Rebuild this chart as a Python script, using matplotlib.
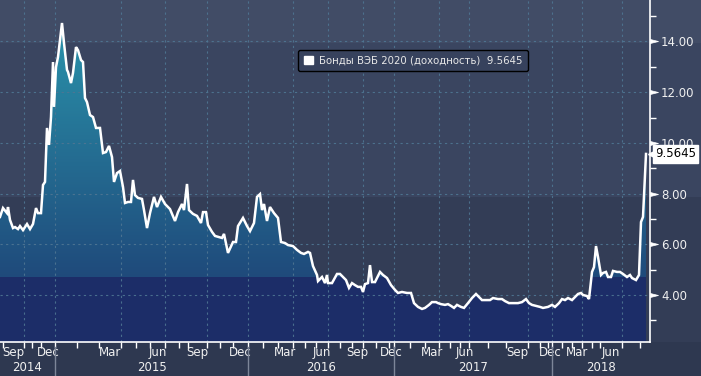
import numpy as np
import matplotlib.pyplot as plt
import matplotlib.transforms as mtransforms
from matplotlib.colors import to_rgb
from matplotlib.patches import Rectangle, Patch
from matplotlib.path import Path

# observation number along the x axis (Bloomberg "no gaps" style axis) and yield, %
obs = [0, 3, 7, 8, 10, 13, 15, 18, 20, 23, 27, 30, 33, 36, 38, 41, 43, 45, 47, 49,
       51, 53, 54, 56, 58, 62, 64, 67, 68, 71, 73, 76, 78, 81, 83, 85, 87, 90, 93, 96,
       100, 103, 106, 109, 112, 114, 117, 120, 123, 125, 128, 131, 133, 135, 138, 142, 144, 147, 150, 154,
       157, 161, 165, 170, 175, 178, 182, 184, 187, 189, 193, 197, 201, 203, 206, 208, 212, 215, 222, 224,
       228, 233, 236, 238, 243, 247, 250, 254, 257, 260, 262, 264, 267, 270, 274, 278, 281, 285, 288, 293,
       297, 301, 304, 308, 310, 313, 317, 318, 322, 325, 327, 328, 332, 337, 340, 342, 346, 349, 352, 355,
       358, 361, 363, 365, 368, 370, 372, 375, 380, 383, 387, 391, 395, 398, 402, 407, 411, 414, 418, 422,
       425, 429, 432, 436, 438, 441, 445, 448, 451, 454, 457, 461, 464, 468, 472, 476, 478, 482, 487, 490,
       493, 498, 502, 505, 509, 513, 518, 522, 526, 529, 532, 536, 540, 543, 548, 552, 555, 559, 562, 565,
       568, 572, 575, 578, 581, 583, 587, 589, 592, 594, 596, 598, 601, 603, 606, 608, 611, 613, 617, 620,
       623, 627, 630, 632, 636, 639, 641, 643, 646]
yld = [7.08, 7.43, 7.23, 7.47, 6.96, 6.64, 6.68, 6.60, 6.72, 6.56, 6.80, 6.60, 6.80, 7.43, 7.23, 7.23, 8.34, 8.46, 10.59, 9.92,
       11.02, 13.19, 11.42, 12.99, 13.39, 14.73, 13.94, 12.88, 12.80, 12.36, 12.76, 13.78, 13.66, 13.27, 13.19, 11.77, 11.61, 11.10, 11.02, 10.59,
       10.59, 9.60, 9.64, 9.88, 9.44, 8.46, 8.81, 8.89, 8.26, 7.63, 7.67, 7.67, 8.54, 7.94, 7.83, 7.79, 7.35, 6.64, 7.23, 7.87,
       7.47, 7.87, 7.59, 7.39, 6.92, 7.27, 7.59, 7.35, 8.38, 7.35, 7.20, 7.12, 6.84, 7.27, 7.27, 6.76, 6.49, 6.33, 6.25, 6.41,
       5.66, 6.09, 6.09, 6.72, 7.04, 6.72, 6.52, 6.84, 7.87, 7.98, 7.35, 7.59, 6.92, 7.47, 7.23, 7.04, 6.09, 6.05, 5.97, 5.93,
       5.78, 5.66, 5.62, 5.70, 5.66, 5.14, 4.79, 4.55, 4.71, 4.47, 4.79, 4.47, 4.47, 4.83, 4.83, 4.75, 4.59, 4.28, 4.47, 4.39,
       4.32, 4.32, 4.12, 4.43, 4.47, 5.18, 4.51, 4.51, 4.91, 4.79, 4.67, 4.39, 4.20, 4.08, 4.12, 4.08, 4.08, 3.68, 3.53, 3.45,
       3.49, 3.61, 3.72, 3.72, 3.68, 3.64, 3.61, 3.64, 3.57, 3.49, 3.61, 3.53, 3.49, 3.68, 3.88, 4.04, 3.96, 3.80, 3.80, 3.80,
       3.88, 3.84, 3.84, 3.76, 3.68, 3.68, 3.68, 3.72, 3.84, 3.68, 3.61, 3.57, 3.53, 3.49, 3.53, 3.61, 3.53, 3.68, 3.84, 3.80,
       3.88, 3.80, 3.92, 4.04, 4.08, 4.00, 3.96, 3.84, 4.91, 5.10, 5.93, 5.50, 4.79, 4.87, 4.91, 4.71, 4.71, 4.95, 4.91, 4.91,
       4.83, 4.71, 4.79, 4.67, 4.59, 4.79, 6.88, 7.08, 9.5645]
series_name = 'Бонды ВЭБ 2020 (доходность)'
last_value = yld[-1]

# month starts on the observation axis, Sep 2014 .. Aug 2018
months = ['Sep', 'Oct', 'Nov', 'Dec',
          'Jan', 'Feb', 'Mar', 'Apr', 'May', 'Jun', 'Jul', 'Aug', 'Sep', 'Oct', 'Nov', 'Dec',
          'Jan', 'Feb', 'Mar', 'Apr', 'May', 'Jun', 'Jul', 'Aug', 'Sep', 'Oct', 'Nov', 'Dec',
          'Jan', 'Feb', 'Mar', 'Apr', 'May', 'Jun', 'Jul', 'Aug', 'Sep', 'Oct', 'Nov', 'Dec',
          'Jan', 'Feb', 'Mar', 'Apr', 'May', 'Jun', 'Jul', 'Aug']
month_pos = [3, 24, 32, 41,
             55, 77, 99, 121, 136, 150, 165, 179, 188, 207, 220, 233,
             248, 263, 278, 293, 305, 316, 328, 340, 352, 363, 376, 389,
             394, 410, 425, 439, 450, 460, 469, 488, 506, 528, 540, 548,
             552, 562, 572, 582, 592, 600, 622, 640]
years = ['2014', '2015', '2016', '2017', '2018']

X_MAX = 650
Y_LO, Y_HI = 2.146, 15.637

W, H = 701, 376
fig = plt.figure(figsize=(W / 100, H / 100), dpi=100)
plt.rcParams['font.family'] = 'DejaVu Sans'

# banded background
bands = [(0, 34, '#2e3850'), (34, 179, '#333d56'), (179, 333, '#3a4560'), (333, 376, '#414c66')]
for y0, y1, c in bands:
    fig.patches.append(Rectangle((0, y0 / H), 1, (y1 - y0) / H, transform=fig.transFigure,
                                 facecolor=c, edgecolor='none', zorder=-10))

ax = fig.add_axes([0, 34 / H, X_MAX / W, 342 / H])
ax.patch.set_alpha(0)
ax.set_xlim(0, X_MAX)
ax.set_ylim(Y_LO, Y_HI)

# gradient area under the line
poly = ax.fill_between(obs, yld, Y_LO, color='none', lw=0)
vv = np.linspace(Y_LO, Y_HI, 600)
navy = np.array(to_rgb('#1c2d68'))
c0 = np.array(to_rgb('#1f4a7b'))
c1 = np.array(to_rgb('#2a93ab'))
t = np.clip((vv - 4.7) / (14.7 - 4.7), 0, 1)[:, None]
rgb = np.where((vv < 4.7)[:, None], navy, c0 + t * (c1 - c0))[:, None, :]
im = ax.imshow(rgb, extent=[0, X_MAX, Y_LO, Y_HI], origin='lower', aspect='auto',
               interpolation='nearest', zorder=1)
im.set_clip_path(poly.get_paths()[0], transform=ax.transData)

# dotted grid
grid_kw = dict(color='#4f7693', lw=0.8, ls=(0, (2, 3)), zorder=2, alpha=0.9)
for v in range(4, 16, 2):
    ax.axhline(v, **grid_kw)
for m, p in zip(months, month_pos):
    if m in ('Jan', 'Apr', 'Jul', 'Oct'):
        ax.axvline(p, **grid_kw)

ax.plot(obs, yld, color='white', lw=1.8, zorder=3, solid_joinstyle='miter')

# spines
for s in ('top', 'left'):
    ax.spines[s].set_visible(False)
for s in ('bottom', 'right'):
    ax.spines[s].set_color('white')
    ax.spines[s].set_linewidth(1.2)

# right y axis
ax.yaxis.tick_right()
ax.set_yticks(range(4, 16, 2))
ax.set_yticklabels([f'{v:.2f}' for v in range(4, 16, 2)])
ax.set_yticks(range(3, 16, 2), minor=True)
ax.tick_params(axis='y', which='major', length=0, pad=8, labelsize=8.5, labelcolor='#f0f0f0')
ax.tick_params(axis='y', which='minor', length=4, width=1, color='white')
tri = Path([(0, 0.5), (2, 0), (0, -0.5), (0, 0.5)], [Path.MOVETO, Path.LINETO, Path.LINETO, Path.CLOSEPOLY])
ytr = mtransforms.blended_transform_factory(ax.transAxes, ax.transData)
ax.plot([1] * 6, list(range(4, 16, 2)), transform=ytr, ls='none', marker=tri, ms=11.5,
        color='white', mec='white', mew=0.5, clip_on=False, zorder=5)

# last value tag
ax.text(1.008, last_value, f'{last_value:.4f}', transform=ytr, ha='left', va='center',
        fontsize=8.5, color='black', zorder=6,
        bbox=dict(boxstyle='square,pad=0.18', facecolor='white', edgecolor='white'))
ax.plot([1.003], [last_value], transform=ytr, ls='none', marker='<', ms=6, color='white',
        clip_on=False, zorder=6)

# x axis: month ticks, labels centred in the month
ax.set_xticks(month_pos)
ax.set_xticklabels([])
ax.tick_params(axis='x', which='major', length=4, width=1, color='white', direction='out')
lab_pos, lab_txt = [], []
for i, m in enumerate(months):
    if m in ('Mar', 'Jun', 'Sep', 'Dec'):
        nxt = month_pos[i + 1] if i + 1 < len(month_pos) else X_MAX
        lab_pos.append((month_pos[i] + nxt) / 2)
        lab_txt.append(m)
ax.set_xticks(lab_pos, minor=True)
ax.set_xticklabels(lab_txt, minor=True)
ax.tick_params(axis='x', which='minor', length=0, pad=3, labelsize=8.5, labelcolor='#f0f0f0')

# years row and separators
xtr = mtransforms.blended_transform_factory(ax.transData, ax.transAxes)
jan_pos = [p for m, p in zip(months, month_pos) if m == 'Jan']
edges = [0] + jan_pos + [X_MAX]
for i, yr in enumerate(years):
    ax.text((edges[i] + edges[i + 1]) / 2, -0.075, yr, transform=xtr, ha='center', va='center',
            fontsize=8.5, color='#f0f0f0')
for p in jan_pos:
    ax.plot([p, p], [-0.015, -0.1], transform=xtr, color='#7d8699', lw=1, clip_on=False)

# legend
leg = ax.legend(handles=[Patch(facecolor='white', edgecolor='white',
                               label=f'{series_name}  {last_value:.4f}')],
                loc='upper left', bbox_to_anchor=(0.451, 0.868), fontsize=7.3,
                facecolor='#37425d', edgecolor='black', labelcolor='#e8e8e8',
                handlelength=0.9, handleheight=0.9, handletextpad=0.6, borderpad=0.55,
                fancybox=True, framealpha=1)

fig.savefig('out.png', dpi=100)
